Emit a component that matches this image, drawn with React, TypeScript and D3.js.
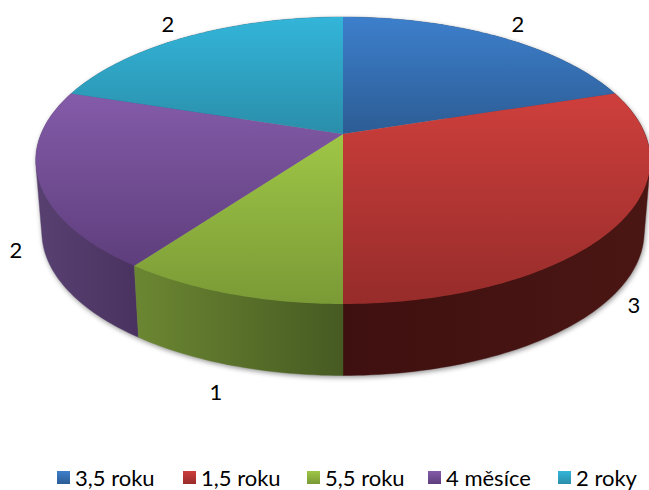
import React from "react";
import * as d3 from "d3";

const categories = ["3,5 roku", "1,5 roku", "5,5 roku", "4 měsíce", "2 roky"];
const values = [2, 3, 1, 2, 2];

// Colours: [top of face, bottom of face, wall outer, wall inner]
const faceTop = ["#3D7FCC", "#CE3F3C", "#9FC646", "#845BA9", "#33B5D9"];
const faceBottom = ["#2C5C94", "#962C2A", "#7A9A36", "#5E3E7C", "#2A8EAA"];
const wallA = ["#2A5585", "#4A1614", "#6B8632", "#574070", "#22708A"];
const wallB = ["#234A75", "#3E100F", "#465A22", "#4A3260", "#1C6078"];

// Layout of the perspective disc
const cx = 343, cy = 134;
const ax = 302, ay = 138.6, persp = 0.1847;
const rimScale = 0.98, rimDrop = 71.5;
const W = 649, H = 490;

const labelX = [518, 634, 216, 16, 168];
const labelY = [24, 305, 392, 250, 24];
const swatchX = [57, 183, 307, 428, 558];

function topPoint(t: number): [number, number] {
  const u = Math.sin(t), v = Math.cos(t), w = 1 + persp * v;
  return [cx + (ax * u) / w, cy - (ay * v) / w];
}
function rimPoint(t: number): [number, number] {
  const u = Math.sin(t), v = Math.cos(t), w = 1 + persp * v;
  return [cx + (rimScale * ax * u) / w, cy + rimDrop - (ay * v) / w];
}
function arcAngles(a0: number, a1: number): number[] {
  const n = Math.max(2, Math.ceil((a1 - a0) / 0.02));
  return d3.range(n + 1).map((i) => a0 + ((a1 - a0) * i) / n);
}
function sweep(a0: number, a1: number): [number, number][] {
  const ang = arcAngles(a0, a1);
  return d3.polygonHull(ang.map(topPoint).concat(ang.map(rimPoint))) as [number, number][];
}

const line = d3.line();
const slices = d3.pie<number>().sort(null)(values);

export default function App() {
  const shadow =
    line(sweep(0, Math.PI * 2).map(([x, y]) => [x + 1, y + 2] as [number, number])) + "Z";

  const wallOrder = slices
    .map((s, i) => ({ s, i }))
    .sort(
      (a, b) =>
        Math.cos((b.s.startAngle + b.s.endAngle) / 2) -
        Math.cos((a.s.startAngle + a.s.endAngle) / 2)
    );

  return (
    <svg
      width={W}
      height={H}
      viewBox={`0 0 ${W} ${H}`}
      style={{ position: "absolute", left: 0, top: 0, background: "#fff" }}
    >
      <defs>
        <filter id="soft" x="-10%" y="-10%" width="120%" height="120%">
          <feGaussianBlur stdDeviation="2.5" />
        </filter>
        {slices.map((s, i) => {
          const pts = arcAngles(s.startAngle, s.endAngle).map(topPoint).concat([[cx, cy]]);
          const [y0, y1] = d3.extent(pts, (p) => p[1]) as [number, number];
          const wallPts = arcAngles(s.startAngle, s.endAngle).map(rimPoint);
          const [x0, x1] = d3.extent(wallPts, (p) => p[0]) as [number, number];
          return (
            <React.Fragment key={i}>
              <linearGradient id={`f${i}`} gradientUnits="userSpaceOnUse" x1={0} x2={0} y1={y0} y2={y1}>
                <stop offset="0" stopColor={faceTop[i]} />
                <stop offset="1" stopColor={faceBottom[i]} />
              </linearGradient>
              <linearGradient
                id={`w${i}`}
                gradientUnits="userSpaceOnUse"
                x1={i === 1 ? x1 : x0}
                x2={i === 1 ? x0 : x1}
                y1={0}
                y2={0}
              >
                <stop offset="0" stopColor={wallA[i]} />
                <stop offset="1" stopColor={wallB[i]} />
              </linearGradient>
              <linearGradient id={`l${i}`} x1="0" x2="0" y1="0" y2="1">
                <stop offset="0" stopColor={faceTop[i]} />
                <stop offset="1" stopColor={faceBottom[i]} />
              </linearGradient>
            </React.Fragment>
          );
        })}
      </defs>

      <path d={shadow} fill="#000" fillOpacity={0.42} filter="url(#soft)" />

      {wallOrder.map(({ s, i }) => (
        <path
          key={i}
          d={line(sweep(s.startAngle, s.endAngle)) + "Z"}
          fill={`url(#w${i})`}
          stroke={`url(#w${i})`}
          strokeWidth={0.4}
        />
      ))}

      {slices.map((s, i) => {
        const ang = arcAngles(s.startAngle, s.endAngle);
        const d = line(([[cx, cy]] as [number, number][]).concat(ang.map(topPoint))) + "Z";
        return <path key={i} d={d} fill={`url(#f${i})`} />;
      })}

      <g fontFamily="Lato, 'Open Sans', sans-serif" fontSize={22} fill="#000">
        {values.map((v, i) => (
          <text key={i} x={labelX[i]} y={labelY[i] + 8} textAnchor="middle">
            {v}
          </text>
        ))}
        {categories.map((c, i) => (
          <g key={c}>
            <rect x={swatchX[i]} y={471} width={13} height={13} fill={`url(#l${i})`} />
            <text x={swatchX[i] + 18} y={486}>
              {c}
            </text>
          </g>
        ))}
      </g>
    </svg>
  );
}
